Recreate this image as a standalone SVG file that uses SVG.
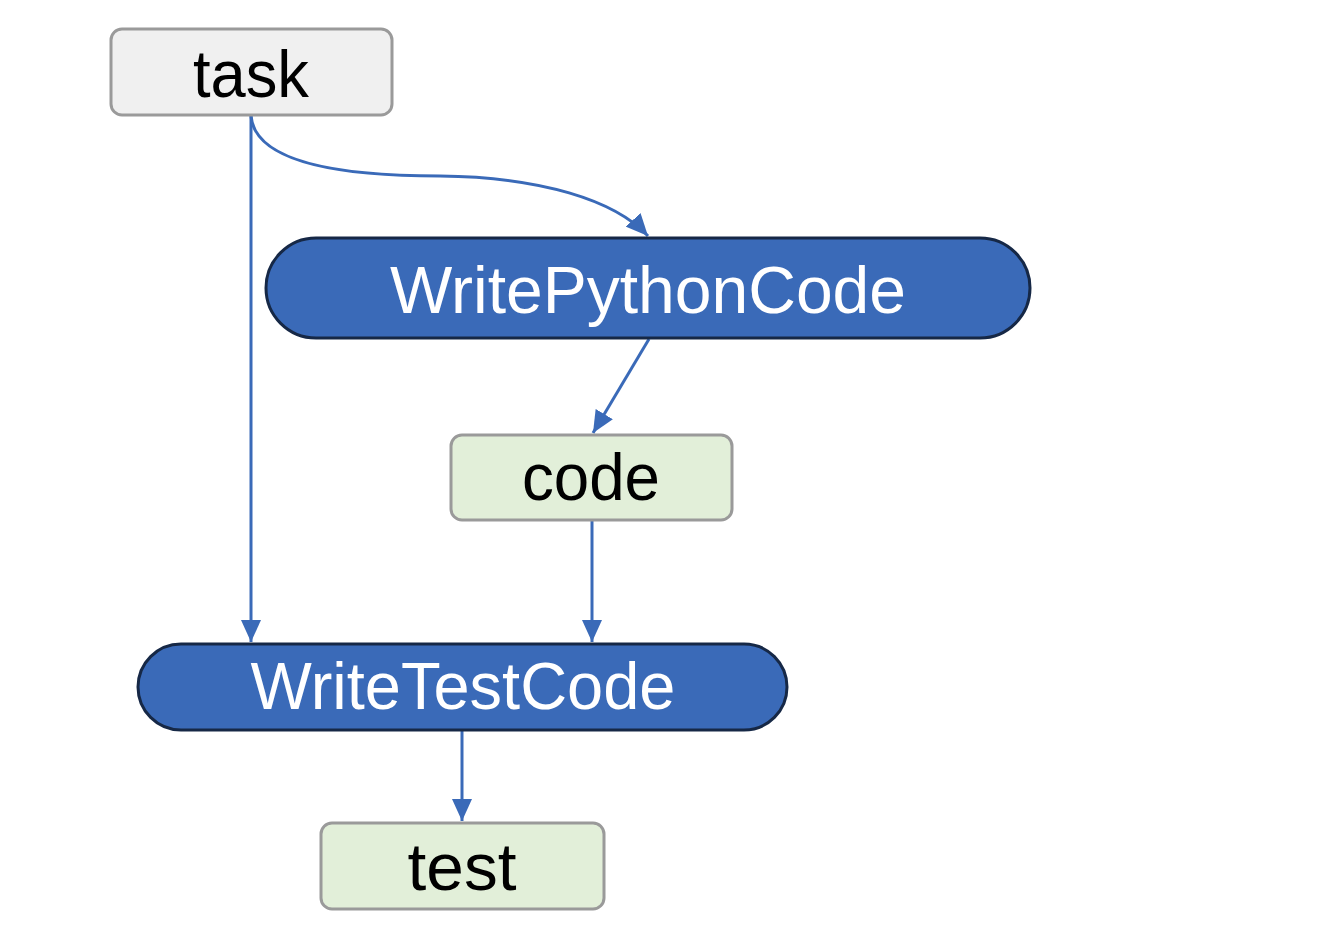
<svg xmlns="http://www.w3.org/2000/svg" width="1332" height="940" viewBox="0 0 1332 940">
<style>
.data{fill:#f0f0f0;stroke:#9a9a9a;stroke-width:3}
.out{fill:#e2efd9;stroke:#9a9a9a;stroke-width:3}
.op{fill:#3a6ab8;stroke:#162846;stroke-width:3}
.lbl{font-family:"Liberation Sans",Arial,sans-serif;font-size:67px;text-anchor:middle;fill:#000}
.lblw{font-family:"Liberation Sans",Arial,sans-serif;font-size:67px;text-anchor:middle;fill:#fff}
.edge{fill:none;stroke:#3a6ab8;stroke-width:3}
</style>
<defs>
<marker id="arr" markerUnits="userSpaceOnUse" markerWidth="24" markerHeight="20" viewBox="0 0 24 20" refX="22" refY="10" orient="auto">
<path d="M0,0 L22,10 L0,20 Z" fill="#3a6ab8"/>
</marker>
</defs>
<rect width="1332" height="940" fill="#fff"/>
<g id="connectors">
<path class="edge" d="M251,116 L251,642" marker-end="url(#arr)"/>
<path class="edge" d="M251,116 C255,160 330,176 440,176 C540,177 615,200 648,236" marker-end="url(#arr)"/>
<path class="edge" d="M649,339 L593,433" marker-end="url(#arr)"/>
<path class="edge" d="M592,520 L592,642" marker-end="url(#arr)"/>
<path class="edge" d="M462,731 L462,821" marker-end="url(#arr)"/>
</g>
<g id="task">
<rect class="data" x="111" y="29" width="281" height="86" rx="11"/>
<text class="lbl" x="251" y="97" textLength="116" lengthAdjust="spacingAndGlyphs">task</text>
</g>
<g id="WritePythonCode">
<rect class="op" x="266" y="238" width="764" height="100" rx="50"/>
<text class="lblw" x="648" y="313" textLength="516" lengthAdjust="spacingAndGlyphs">WritePythonCode</text>
</g>
<g id="code">
<rect class="out" x="451" y="435" width="281" height="85" rx="11"/>
<text class="lbl" x="591" y="500" textLength="138" lengthAdjust="spacingAndGlyphs">code</text>
</g>
<g id="WriteTestCode">
<rect class="op" x="138" y="644" width="649" height="86" rx="43"/>
<text class="lblw" x="463" y="709" textLength="425" lengthAdjust="spacingAndGlyphs">WriteTestCode</text>
</g>
<g id="test">
<rect class="out" x="321" y="823" width="283" height="86" rx="11"/>
<text class="lbl" x="462" y="890" textLength="109" lengthAdjust="spacingAndGlyphs">test</text>
</g>
</svg>
